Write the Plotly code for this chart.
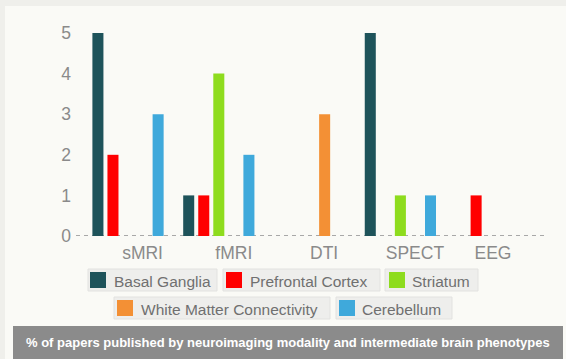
import plotly.graph_objects as go

modalities = ["sMRI", "fMRI", "DTI", "SPECT", "EEG"]
series_names = ["Basal Ganglia", "Prefrontal Cortex", "Striatum",
                "White Matter Connectivity", "Cerebellum"]
basal_ganglia = [5, 1, 0, 5, 0]
prefrontal_cortex = [2, 1, 0, 0, 1]
striatum = [0, 4, 0, 1, 0]
white_matter = [0, 0, 3, 0, 0]
cerebellum = [3, 2, 0, 1, 0]
y_ticks = [0, 1, 2, 3, 4, 5]
title_text = "% of papers published by neuroimaging modality and intermediate brain phenotypes"

values = [basal_ganglia, prefrontal_cortex, striatum, white_matter, cerebellum]
colors = ["#1e535a", "#ff0000", "#8edc1e", "#f39035", "#3fa9db"]

W, H = 566, 359
ML, MR, MT, MB = 76, 19, 33, 123
PW, PH = W - ML - MR, H - MT - MB

def px_x(p):
    return (p - ML) / PW

def px_y(p):
    return (H - MB - p) / PH

xpos = list(range(len(modalities)))
fig = go.Figure()
for name, vals, col in zip(series_names, values, colors):
    fig.add_trace(go.Bar(x=xpos, y=vals, name=name, marker=dict(color=col, line=dict(width=0)),
                         showlegend=False))

label_shift = [0.16, 0.165, 0.16, 0.16, 0.02]
gray = "#8a8a8a"
fig.update_layout(
    width=W, height=H,
    margin=dict(l=ML, r=MR, t=MT, b=MB, pad=0),
    paper_bgcolor="#fafaf6", plot_bgcolor="rgba(0,0,0,0)",
    barmode="group", bargap=0.171, bargroupgap=0.267,
    font=dict(family="Arial, Liberation Sans, sans-serif", color=gray),
    xaxis=dict(range=[-0.573, 4.615], tickvals=[i + s for i, s in zip(xpos, label_shift)],
               ticktext=modalities, showgrid=False, zeroline=False, showline=False,
               ticks="", tickfont=dict(size=17.5, color=gray), ticklabelstandoff=4),
    yaxis=dict(range=[0, 5], tickvals=y_ticks, showgrid=False, zeroline=False,
               showline=False, ticks="", tickfont=dict(size=17.5, color=gray),
               ticklabelstandoff=4),
)

shapes = []
annotations = []
# outer bands
shapes.append(dict(type="rect", xref="paper", yref="paper", x0=px_x(0), x1=px_x(W),
                   y0=px_y(6), y1=px_y(0), fillcolor="#efefeb", line=dict(width=0), layer="below"))
shapes.append(dict(type="rect", xref="paper", yref="paper", x0=px_x(0), x1=px_x(5),
                   y0=px_y(H), y1=px_y(0), fillcolor="#efefeb", line=dict(width=0), layer="below"))
# dashed baseline
shapes.append(dict(type="line", xref="paper", yref="y", x0=0, x1=1, y0=0, y1=0,
                   line=dict(color="#a8a8a8", width=2, dash="4px,4px"), layer="below"))

# legend boxes (pixel layout)
legend_layout = [
    # box x0, x1, y0, y1, swatch x0, text x
    (88, 217, 269, 291, 90, 112),
    (223, 380, 269, 291, 226, 248),
    (385, 478, 269, 291, 389, 410),
    (114, 330, 297, 319, 117, 139),
    (336, 452, 297, 319, 339, 360),
]
for (bx0, bx1, by0, by1, sx, tx), name, col in zip(legend_layout, series_names, colors):
    shapes.append(dict(type="rect", xref="paper", yref="paper", x0=px_x(bx0), x1=px_x(bx1),
                       y0=px_y(by1), y1=px_y(by0), fillcolor="#eeeeec",
                       line=dict(color="#e2e2e0", width=1)))
    cy = (by0 + by1) / 2
    shapes.append(dict(type="rect", xref="paper", yref="paper", x0=px_x(sx), x1=px_x(sx + 16),
                       y0=px_y(cy + 8), y1=px_y(cy - 8), fillcolor=col, line=dict(width=0)))
    annotations.append(dict(xref="paper", yref="paper", x=px_x(tx), y=px_y(cy + 1), text=name,
                            showarrow=False, xanchor="left", yanchor="middle",
                            font=dict(size=15.5, color="#707070")))

# title bar
shapes.append(dict(type="rect", xref="paper", yref="paper", x0=px_x(13), x1=px_x(563),
                   y0=px_y(H), y1=px_y(326), fillcolor="#8b8b8b", line=dict(width=0)))
annotations.append(dict(xref="paper", yref="paper", x=px_x(288), y=px_y(342), text="<b>" + title_text + "</b>",
                        showarrow=False, xanchor="center", yanchor="middle",
                        font=dict(size=13, color="#ffffff")))

fig.update_layout(shapes=shapes, annotations=annotations)
fig.write_html("out.html")
